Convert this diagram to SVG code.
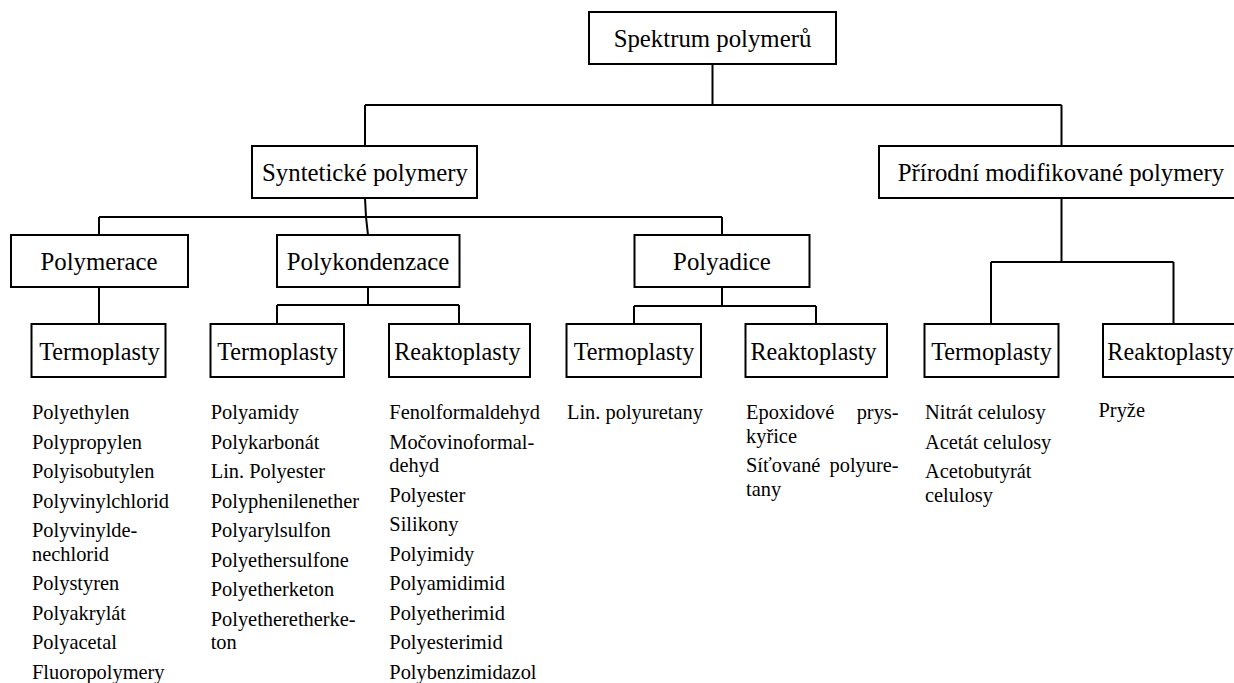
<svg xmlns="http://www.w3.org/2000/svg" width="1234" height="683" viewBox="0 0 1234 683">
<style>
.box{fill:#fff;stroke:#000;stroke-width:2}
text{font-family:"Liberation Serif","Times New Roman",serif;fill:#000}
.lbl{font-size:24.8px}
.sm{font-size:24.2px}
.c{text-anchor:middle}
.e{text-anchor:end}
.item{font-size:20.4px}
.conn{fill:none;stroke:#000;stroke-width:2}
</style>
<rect x="0" y="0" width="1234" height="683" fill="#fff"/>
<g id="connectors">
<path class="conn" d="M712.5,64 V105 M365,105 H1061.5 M365,105 V146 M1061.5,105 V146"/>
<path class="conn" d="M365,198 L366,217 L368,235 M99,217 H722 M99,217 V235 M722,217 V235"/>
<path class="conn" d="M99,287 V324"/>
<path class="conn" d="M368,287 V305 M277,305 H459 M277,305 V324 M459,305 V324"/>
<path class="conn" d="M722,287 V306 M634,306 H816 M634,306 V324 M816,306 V324"/>
<path class="conn" d="M1061.5,198 V262 M991,262 H1173.5 M991,262 V324 M1173.5,262 V324"/>
</g>
<g id="root">
<rect class="box" x="589" y="12" width="247" height="52"/>
<text class="lbl c" x="712.5" y="47">Spektrum polymerů</text>
</g>
<g id="synteticke">
<rect class="box" x="252" y="146" width="225" height="52"/>
<text class="lbl c" x="365" y="181">Syntetické polymery</text>
</g>
<g id="prirodni">
<rect class="box" x="879" y="146" width="364" height="52"/>
<text class="lbl c" x="1061" y="181">Přírodní modifikované polymery</text>
</g>
<g id="polymerace">
<rect class="box" x="11" y="235" width="177" height="52"/>
<text class="lbl c" x="99" y="270">Polymerace</text>
</g>
<g id="polykondenzace">
<rect class="box" x="277" y="235" width="182.5" height="52"/>
<text class="lbl c" x="368" y="270">Polykondenzace</text>
</g>
<g id="polyadice">
<rect class="box" x="634.5" y="235" width="175" height="52"/>
<text class="lbl c" x="722" y="270">Polyadice</text>
</g>
<g id="termoplasty1">
<rect class="box" x="31.5" y="324" width="134" height="53"/>
<text class="lbl sm c" x="99.5" y="359.5">Termoplasty</text>
</g>
<g id="termoplasty2">
<rect class="box" x="210.5" y="324" width="133.5" height="53"/>
<text class="lbl sm c" x="277.5" y="359.5">Termoplasty</text>
</g>
<g id="reaktoplasty2">
<rect class="box" x="389" y="324" width="141" height="53"/>
<text class="lbl sm" x="394.2" y="359.5">Reaktoplasty</text>
</g>
<g id="termoplasty3">
<rect class="box" x="566.5" y="324" width="134.5" height="53"/>
<text class="lbl sm c" x="634" y="359.5">Termoplasty</text>
</g>
<g id="reaktoplasty3">
<rect class="box" x="745.5" y="324" width="141.5" height="53"/>
<text class="lbl sm" x="750.4" y="359.5">Reaktoplasty</text>
</g>
<g id="termoplasty4">
<rect class="box" x="924.5" y="324" width="134" height="53"/>
<text class="lbl sm c" x="991.5" y="359.5">Termoplasty</text>
</g>
<g id="reaktoplasty4">
<rect class="box" x="1103" y="324" width="141" height="53"/>
<text class="lbl sm" x="1107.3" y="359.5">Reaktoplasty</text>
</g>
<g id="list-polymerace-termoplasty" class="item">
<text x="32" y="419">Polyethylen</text>
<text x="32" y="448.5">Polypropylen</text>
<text x="32" y="478">Polyisobutylen</text>
<text x="32" y="507.5">Polyvinylchlorid</text>
<text x="32" y="537">Polyvinylde-</text>
<text x="32" y="560.5">nechlorid</text>
<text x="32" y="590">Polystyren</text>
<text x="32" y="619.5">Polyakrylát</text>
<text x="32" y="649">Polyacetal</text>
<text x="32" y="678.5">Fluoropolymery</text>
</g>
<g id="list-polykondenzace-termoplasty" class="item">
<text x="210.7" y="419">Polyamidy</text>
<text x="210.7" y="448.5">Polykarbonát</text>
<text x="210.7" y="478">Lin. Polyester</text>
<text x="210.7" y="507.5">Polyphenilenether</text>
<text x="210.7" y="537">Polyarylsulfon</text>
<text x="210.7" y="566.5">Polyethersulfone</text>
<text x="210.7" y="596">Polyetherketon</text>
<text x="210.7" y="625.5">Polyetheretherke-</text>
<text x="210.7" y="649">ton</text>
</g>
<g id="list-polykondenzace-reaktoplasty" class="item">
<text x="389.3" y="419">Fenolformaldehyd</text>
<text x="389.3" y="448.5">Močovinoformal-</text>
<text x="389.3" y="472">dehyd</text>
<text x="389.3" y="501.5">Polyester</text>
<text x="389.3" y="531">Silikony</text>
<text x="389.3" y="560.5">Polyimidy</text>
<text x="389.3" y="590">Polyamidimid</text>
<text x="389.3" y="619.5">Polyetherimid</text>
<text x="389.3" y="649">Polyesterimid</text>
<text x="389.3" y="678.5">Polybenzimidazol</text>
</g>
<g id="list-polyadice-termoplasty" class="item">
<text x="567" y="419">Lin. polyuretany</text>
</g>
<g id="list-polyadice-reaktoplasty" class="item">
<text x="746" y="419">Epoxidové</text>
<text class="e" x="898.6" y="419">prys-</text>
<text x="746" y="442.5">kyřice</text>
<text x="746" y="472">Síťované</text>
<text class="e" x="898.6" y="472">polyure-</text>
<text x="746" y="495.5">tany</text>
</g>
<g id="list-prirodni-termoplasty" class="item">
<text x="925" y="419">Nitrát celulosy</text>
<text x="925" y="448.5">Acetát celulosy</text>
<text x="925" y="478">Acetobutyrát</text>
<text x="925" y="501.5">celulosy</text>
</g>
<g id="list-prirodni-reaktoplasty" class="item">
<text x="1098.5" y="417">Pryže</text>
</g>
</svg>
